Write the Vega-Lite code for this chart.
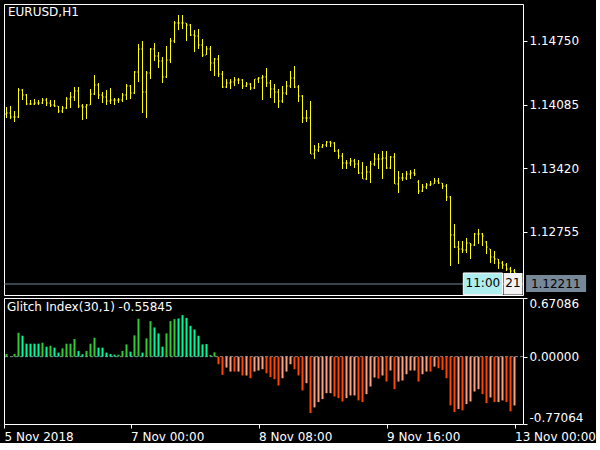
{
"$schema": "https://vega.github.io/schema/vega-lite/v6.json",
"background": "black",
"padding": {"left": 3, "top": 3, "right": 0, "bottom": 0},
"spacing": 0,
"config": {
  "view": {"stroke": "white", "strokeWidth": 1},
  "font": "DejaVu Sans",
  "axis": {"labelColor": "white", "tickColor": "white", "labelFont": "DejaVu Sans", "labelFontSize": 12, "grid": false, "domain": false, "tickSize": 4, "title": null, "labelOverlap": false},
  "title": {"anchor": "start", "frame": "group", "orient": "top", "color": "white", "fontSize": 12, "fontWeight": "normal", "font": "DejaVu Sans", "baseline": "top"}
},
"datasets": {"bars": [
{"bar":0,"open":1.13987,"high":1.14060,"low":1.13945,"close":1.13997,"glitch":0.030,"phase":"up-rise"},
{"bar":1,"open":1.13997,"high":1.14070,"low":1.13934,"close":1.13955,"glitch":0,"phase":"up-rise"},
{"bar":2,"open":1.13955,"high":1.14018,"low":1.13903,"close":1.13955,"glitch":0.030,"phase":"up-rise"},
{"bar":3,"open":1.13955,"high":1.14258,"low":1.13945,"close":1.14237,"glitch":0.273,"phase":"up-rise"},
{"bar":4,"open":1.14237,"high":1.14248,"low":1.14133,"close":1.14185,"glitch":0.239,"phase":"up-fall"},
{"bar":5,"open":1.14185,"high":1.14196,"low":1.14081,"close":1.14091,"glitch":0.148,"phase":"up-fall"},
{"bar":6,"open":1.14091,"high":1.14133,"low":1.14081,"close":1.14091,"glitch":0.148,"phase":"up-fall"},
{"bar":7,"open":1.14091,"high":1.14143,"low":1.14081,"close":1.14102,"glitch":0.148,"phase":"up-fall"},
{"bar":8,"open":1.14102,"high":1.14133,"low":1.14081,"close":1.14102,"glitch":0.148,"phase":"up-fall"},
{"bar":9,"open":1.14102,"high":1.14154,"low":1.14091,"close":1.14133,"glitch":0.159,"phase":"up-rise"},
{"bar":10,"open":1.14133,"high":1.14154,"low":1.14070,"close":1.14102,"glitch":0.114,"phase":"up-fall"},
{"bar":11,"open":1.14102,"high":1.14133,"low":1.14060,"close":1.14081,"glitch":0.125,"phase":"up-rise"},
{"bar":12,"open":1.14081,"high":1.14133,"low":1.14060,"close":1.14070,"glitch":0.103,"phase":"up-fall"},
{"bar":13,"open":1.14070,"high":1.14070,"low":1.13997,"close":1.14018,"glitch":0.046,"phase":"up-fall"},
{"bar":14,"open":1.14018,"high":1.14070,"low":1.13997,"close":1.14049,"glitch":0.095,"phase":"up-rise"},
{"bar":15,"open":1.14049,"high":1.14164,"low":1.14039,"close":1.14143,"glitch":0.148,"phase":"up-rise"},
{"bar":16,"open":1.14143,"high":1.14217,"low":1.14049,"close":1.14164,"glitch":0.148,"phase":"up-rise"},
{"bar":17,"open":1.14164,"high":1.14269,"low":1.14123,"close":1.14227,"glitch":0.201,"phase":"up-rise"},
{"bar":18,"open":1.14227,"high":1.14269,"low":1.14049,"close":1.14070,"glitch":0.065,"phase":"up-fall"},
{"bar":19,"open":1.14070,"high":1.14091,"low":1.13924,"close":1.14060,"glitch":0.027,"phase":"up-fall"},
{"bar":20,"open":1.14060,"high":1.14091,"low":1.13934,"close":1.14081,"glitch":0.065,"phase":"up-rise"},
{"bar":21,"open":1.14081,"high":1.14248,"low":1.14081,"close":1.14196,"glitch":0.148,"phase":"up-rise"},
{"bar":22,"open":1.14196,"high":1.14394,"low":1.14185,"close":1.14290,"glitch":0.216,"phase":"up-rise"},
{"bar":23,"open":1.14290,"high":1.14311,"low":1.14143,"close":1.14185,"glitch":0.103,"phase":"up-fall"},
{"bar":24,"open":1.14185,"high":1.14217,"low":1.14102,"close":1.14164,"glitch":0.103,"phase":"up-fall"},
{"bar":25,"open":1.14164,"high":1.14237,"low":1.14081,"close":1.14123,"glitch":0.046,"phase":"up-fall"},
{"bar":26,"open":1.14123,"high":1.14258,"low":1.14091,"close":1.14133,"glitch":0.030,"phase":"up-fall"},
{"bar":27,"open":1.14133,"high":1.14154,"low":1.14081,"close":1.14133,"glitch":0.023,"phase":"up-fall"},
{"bar":28,"open":1.14133,"high":1.14154,"low":1.14102,"close":1.14133,"glitch":0.023,"phase":"up-rise"},
{"bar":29,"open":1.14133,"high":1.14206,"low":1.14112,"close":1.14185,"glitch":0.065,"phase":"up-rise"},
{"bar":30,"open":1.14185,"high":1.14300,"low":1.14133,"close":1.14279,"glitch":0.140,"phase":"up-rise"},
{"bar":31,"open":1.14279,"high":1.14290,"low":1.14143,"close":1.14206,"glitch":0.057,"phase":"up-fall"},
{"bar":32,"open":1.14206,"high":1.14436,"low":1.14196,"close":1.14425,"glitch":0.243,"phase":"up-rise"},
{"bar":33,"open":1.14425,"high":1.14718,"low":1.14321,"close":1.14666,"glitch":0.433,"phase":"up-rise"},
{"bar":34,"open":1.14666,"high":1.14749,"low":1.13997,"close":1.14217,"glitch":0.046,"phase":"up-fall"},
{"bar":35,"open":1.14217,"high":1.14436,"low":1.13945,"close":1.14415,"glitch":0.209,"phase":"up-rise"},
{"bar":36,"open":1.14415,"high":1.14676,"low":1.14352,"close":1.14666,"glitch":0.406,"phase":"up-rise"},
{"bar":37,"open":1.14666,"high":1.14728,"low":1.14540,"close":1.14593,"glitch":0.334,"phase":"up-fall"},
{"bar":38,"open":1.14593,"high":1.14634,"low":1.14467,"close":1.14540,"glitch":0.266,"phase":"up-fall"},
{"bar":39,"open":1.14540,"high":1.14582,"low":1.14311,"close":1.14373,"glitch":0.114,"phase":"up-fall"},
{"bar":40,"open":1.14373,"high":1.14697,"low":1.14363,"close":1.14551,"glitch":0.266,"phase":"up-rise"},
{"bar":41,"open":1.14551,"high":1.14781,"low":1.14519,"close":1.14749,"glitch":0.406,"phase":"up-rise"},
{"bar":42,"open":1.14749,"high":1.14958,"low":1.14728,"close":1.14937,"glitch":0.429,"phase":"up-rise"},
{"bar":43,"open":1.14937,"high":1.15021,"low":1.14864,"close":1.14937,"glitch":0.437,"phase":"up-fall"},
{"bar":44,"open":1.14937,"high":1.15021,"low":1.14875,"close":1.14937,"glitch":0.475,"phase":"up-fall"},
{"bar":45,"open":1.14937,"high":1.14937,"low":1.14749,"close":1.14916,"glitch":0.444,"phase":"up-fall"},
{"bar":46,"open":1.14916,"high":1.14927,"low":1.14801,"close":1.14812,"glitch":0.353,"phase":"up-fall"},
{"bar":47,"open":1.14812,"high":1.14864,"low":1.14634,"close":1.14801,"glitch":0.311,"phase":"up-fall"},
{"bar":48,"open":1.14801,"high":1.14875,"low":1.14666,"close":1.14707,"glitch":0.239,"phase":"up-fall"},
{"bar":49,"open":1.14707,"high":1.14770,"low":1.14582,"close":1.14603,"glitch":0.140,"phase":"up-fall"},
{"bar":50,"open":1.14603,"high":1.14697,"low":1.14603,"close":1.14666,"glitch":0.144,"phase":"up-fall"},
{"bar":51,"open":1.14666,"high":1.14697,"low":1.14436,"close":1.14519,"glitch":0.019,"phase":"up-rise"},
{"bar":52,"open":1.14519,"high":1.14572,"low":1.14384,"close":1.14561,"glitch":0.049,"phase":"up-rise"},
{"bar":53,"open":1.14561,"high":1.14603,"low":1.14373,"close":1.14405,"glitch":-0.087,"phase":"down-fall"},
{"bar":54,"open":1.14405,"high":1.14436,"low":1.14258,"close":1.14269,"glitch":-0.209,"phase":"down-fall"},
{"bar":55,"open":1.14269,"high":1.14352,"low":1.14258,"close":1.14311,"glitch":-0.125,"phase":"down-rise"},
{"bar":56,"open":1.14311,"high":1.14352,"low":1.14248,"close":1.14321,"glitch":-0.171,"phase":"down-rise"},
{"bar":57,"open":1.14321,"high":1.14373,"low":1.14279,"close":1.14342,"glitch":-0.171,"phase":"down-fall"},
{"bar":58,"open":1.14342,"high":1.14363,"low":1.14300,"close":1.14342,"glitch":-0.171,"phase":"down-rise"},
{"bar":59,"open":1.14342,"high":1.14352,"low":1.14248,"close":1.14279,"glitch":-0.216,"phase":"down-fall"},
{"bar":60,"open":1.14279,"high":1.14321,"low":1.14269,"close":1.14300,"glitch":-0.216,"phase":"down-rise"},
{"bar":61,"open":1.14300,"high":1.14311,"low":1.14237,"close":1.14258,"glitch":-0.247,"phase":"down-fall"},
{"bar":62,"open":1.14258,"high":1.14352,"low":1.14248,"close":1.14352,"glitch":-0.171,"phase":"down-rise"},
{"bar":63,"open":1.14352,"high":1.14373,"low":1.14311,"close":1.14363,"glitch":-0.159,"phase":"down-rise"},
{"bar":64,"open":1.14363,"high":1.14394,"low":1.14133,"close":1.14373,"glitch":-0.144,"phase":"down-rise"},
{"bar":65,"open":1.14373,"high":1.14467,"low":1.14269,"close":1.14311,"glitch":-0.190,"phase":"down-fall"},
{"bar":66,"open":1.14311,"high":1.14342,"low":1.14154,"close":1.14248,"glitch":-0.235,"phase":"down-fall"},
{"bar":67,"open":1.14248,"high":1.14300,"low":1.14102,"close":1.14217,"glitch":-0.258,"phase":"down-fall"},
{"bar":68,"open":1.14217,"high":1.14248,"low":1.14049,"close":1.14123,"glitch":-0.330,"phase":"down-fall"},
{"bar":69,"open":1.14123,"high":1.14279,"low":1.14102,"close":1.14206,"glitch":-0.247,"phase":"down-rise"},
{"bar":70,"open":1.14206,"high":1.14331,"low":1.14185,"close":1.14279,"glitch":-0.171,"phase":"down-rise"},
{"bar":71,"open":1.14279,"high":1.14436,"low":1.14258,"close":1.14363,"glitch":-0.087,"phase":"down-rise"},
{"bar":72,"open":1.14363,"high":1.14488,"low":1.14258,"close":1.14269,"glitch":-0.144,"phase":"down-fall"},
{"bar":73,"open":1.14269,"high":1.14290,"low":1.14112,"close":1.14175,"glitch":-0.216,"phase":"down-fall"},
{"bar":74,"open":1.14175,"high":1.14185,"low":1.13893,"close":1.13945,"glitch":-0.387,"phase":"down-fall"},
{"bar":75,"open":1.13945,"high":1.14028,"low":1.13903,"close":1.13945,"glitch":-0.304,"phase":"down-rise"},
{"bar":76,"open":1.13945,"high":1.14123,"low":1.13569,"close":1.13569,"glitch":-0.645,"phase":"down-fall"},
{"bar":77,"open":1.13569,"high":1.13663,"low":1.13517,"close":1.13611,"glitch":-0.581,"phase":"down-rise"},
{"bar":78,"open":1.13611,"high":1.13684,"low":1.13590,"close":1.13642,"glitch":-0.520,"phase":"down-rise"},
{"bar":79,"open":1.13642,"high":1.13673,"low":1.13632,"close":1.13663,"glitch":-0.486,"phase":"down-rise"},
{"bar":80,"open":1.13663,"high":1.13705,"low":1.13642,"close":1.13694,"glitch":-0.418,"phase":"down-rise"},
{"bar":81,"open":1.13694,"high":1.13705,"low":1.13642,"close":1.13684,"glitch":-0.418,"phase":"down-rise"},
{"bar":82,"open":1.13684,"high":1.13694,"low":1.13590,"close":1.13600,"glitch":-0.456,"phase":"down-fall"},
{"bar":83,"open":1.13600,"high":1.13621,"low":1.13517,"close":1.13548,"glitch":-0.475,"phase":"down-fall"},
{"bar":84,"open":1.13548,"high":1.13579,"low":1.13412,"close":1.13475,"glitch":-0.513,"phase":"down-fall"},
{"bar":85,"open":1.13475,"high":1.13506,"low":1.13412,"close":1.13475,"glitch":-0.475,"phase":"down-rise"},
{"bar":86,"open":1.13475,"high":1.13527,"low":1.13444,"close":1.13496,"glitch":-0.444,"phase":"down-rise"},
{"bar":87,"open":1.13496,"high":1.13517,"low":1.13423,"close":1.13464,"glitch":-0.444,"phase":"down-rise"},
{"bar":88,"open":1.13464,"high":1.13506,"low":1.13360,"close":1.13370,"glitch":-0.501,"phase":"down-fall"},
{"bar":89,"open":1.13370,"high":1.13485,"low":1.13308,"close":1.13308,"glitch":-0.520,"phase":"down-fall"},
{"bar":90,"open":1.13308,"high":1.13444,"low":1.13297,"close":1.13381,"glitch":-0.429,"phase":"down-rise"},
{"bar":91,"open":1.13381,"high":1.13496,"low":1.13266,"close":1.13464,"glitch":-0.342,"phase":"down-rise"},
{"bar":92,"open":1.13464,"high":1.13579,"low":1.13444,"close":1.13517,"glitch":-0.239,"phase":"down-rise"},
{"bar":93,"open":1.13517,"high":1.13569,"low":1.13412,"close":1.13517,"glitch":-0.251,"phase":"down-fall"},
{"bar":94,"open":1.13517,"high":1.13600,"low":1.13308,"close":1.13527,"glitch":-0.216,"phase":"down-rise"},
{"bar":95,"open":1.13527,"high":1.13600,"low":1.13412,"close":1.13423,"glitch":-0.285,"phase":"down-fall"},
{"bar":96,"open":1.13423,"high":1.13548,"low":1.13412,"close":1.13538,"glitch":-0.159,"phase":"down-rise"},
{"bar":97,"open":1.13538,"high":1.13579,"low":1.13256,"close":1.13256,"glitch":-0.372,"phase":"down-fall"},
{"bar":98,"open":1.13256,"high":1.13391,"low":1.13162,"close":1.13318,"glitch":-0.285,"phase":"down-rise"},
{"bar":99,"open":1.13318,"high":1.13370,"low":1.13287,"close":1.13318,"glitch":-0.273,"phase":"down-rise"},
{"bar":100,"open":1.13318,"high":1.13391,"low":1.13297,"close":1.13360,"glitch":-0.201,"phase":"down-rise"},
{"bar":101,"open":1.13360,"high":1.13402,"low":1.13308,"close":1.13370,"glitch":-0.159,"phase":"down-rise"},
{"bar":102,"open":1.13370,"high":1.13412,"low":1.13339,"close":1.13360,"glitch":-0.159,"phase":"down-rise"},
{"bar":103,"open":1.13276,"high":1.13297,"low":1.13151,"close":1.13182,"glitch":-0.285,"phase":"down-fall"},
{"bar":104,"open":1.13182,"high":1.13256,"low":1.13172,"close":1.13224,"glitch":-0.201,"phase":"down-rise"},
{"bar":105,"open":1.13224,"high":1.13266,"low":1.13203,"close":1.13245,"glitch":-0.171,"phase":"down-rise"},
{"bar":106,"open":1.13245,"high":1.13287,"low":1.13235,"close":1.13256,"glitch":-0.171,"phase":"down-fall"},
{"bar":107,"open":1.13256,"high":1.13318,"low":1.13256,"close":1.13287,"glitch":-0.114,"phase":"down-rise"},
{"bar":108,"open":1.13287,"high":1.13318,"low":1.13256,"close":1.13266,"glitch":-0.133,"phase":"down-fall"},
{"bar":109,"open":1.13266,"high":1.13266,"low":1.13203,"close":1.13235,"glitch":-0.152,"phase":"down-fall"},
{"bar":110,"open":1.13235,"high":1.13256,"low":1.13078,"close":1.13120,"glitch":-0.247,"phase":"down-fall"},
{"bar":111,"open":1.13120,"high":1.13130,"low":1.12399,"close":1.12723,"glitch":-0.558,"phase":"down-fall"},
{"bar":112,"open":1.12723,"high":1.12838,"low":1.12587,"close":1.12598,"glitch":-0.634,"phase":"down-fall"},
{"bar":113,"open":1.12598,"high":1.12660,"low":1.12420,"close":1.12577,"glitch":-0.600,"phase":"down-rise"},
{"bar":114,"open":1.12577,"high":1.12660,"low":1.12535,"close":1.12566,"glitch":-0.615,"phase":"down-fall"},
{"bar":115,"open":1.12566,"high":1.12692,"low":1.12535,"close":1.12639,"glitch":-0.543,"phase":"down-rise"},
{"bar":116,"open":1.12639,"high":1.12639,"low":1.12472,"close":1.12618,"glitch":-0.513,"phase":"down-rise"},
{"bar":117,"open":1.12618,"high":1.12744,"low":1.12608,"close":1.12733,"glitch":-0.399,"phase":"down-rise"},
{"bar":118,"open":1.12733,"high":1.12786,"low":1.12629,"close":1.12733,"glitch":-0.372,"phase":"down-rise"},
{"bar":119,"open":1.12733,"high":1.12744,"low":1.12608,"close":1.12712,"glitch":-0.429,"phase":"down-fall"},
{"bar":120,"open":1.12650,"high":1.12660,"low":1.12524,"close":1.12598,"glitch":-0.532,"phase":"down-fall"},
{"bar":121,"open":1.12577,"high":1.12577,"low":1.12430,"close":1.12493,"glitch":-0.467,"phase":"down-rise"},
{"bar":122,"open":1.12493,"high":1.12556,"low":1.12420,"close":1.12472,"glitch":-0.520,"phase":"down-fall"},
{"bar":123,"open":1.12472,"high":1.12472,"low":1.12368,"close":1.12430,"glitch":-0.520,"phase":"down-rise"},
{"bar":124,"open":1.12430,"high":1.12451,"low":1.12368,"close":1.12410,"glitch":-0.501,"phase":"down-rise"},
{"bar":125,"open":1.12410,"high":1.12430,"low":1.12347,"close":1.12368,"glitch":-0.520,"phase":"down-fall"},
{"bar":126,"open":1.12368,"high":1.12389,"low":1.12326,"close":1.12347,"glitch":-0.626,"phase":"down-fall"},
{"bar":127,"open":1.12347,"high":1.12368,"low":1.12305,"close":1.12326,"glitch":-0.55845,"phase":"down-rise"}
]},
"vconcat": [
  {
    "width": 519,
    "height": 291,
    "title": {"text": "EURUSD,H1", "offset": -15, "dx": 4},
    "layer": [
      {
        "data": {"values": [{"bid": 1.12211}]},
        "mark": {"type": "rule", "color": "#778899", "strokeWidth": 1},
        "encoding": {
          "y": {"field": "bid", "type": "quantitative", "scale": {"domain": [1.12096, 1.15136], "nice": false, "zero": false},
                "axis": {"orient": "right", "values": [1.1475, 1.14085, 1.1342, 1.12755], "format": ".5f", "labelPadding": 2}}
        }
      },
      {
        "data": {"name": "bars"},
        "mark": {"type": "rule", "color": "#FFFF00", "strokeWidth": 1},
        "encoding": {
          "x": {"field": "bar", "type": "quantitative", "scale": {"domain": [-0.625, 129.125], "nice": false, "zero": false}, "axis": null},
          "y": {"field": "low", "type": "quantitative"},
          "y2": {"field": "high"}
        }
      },
      {
        "data": {"name": "bars"},
        "mark": {"type": "tick", "orient": "horizontal", "size": 1, "thickness": 1, "xOffset": -1, "color": "#FFFF00"},
        "encoding": {
          "x": {"field": "bar", "type": "quantitative"},
          "y": {"field": "open", "type": "quantitative"}
        }
      },
      {
        "data": {"name": "bars"},
        "mark": {"type": "tick", "orient": "horizontal", "size": 1, "thickness": 1, "xOffset": 1, "color": "#FFFF00"},
        "encoding": {
          "x": {"field": "bar", "type": "quantitative"},
          "y": {"field": "close", "type": "quantitative"}
        }
      },
      {
        "data": {"values": [{}]},
        "mark": {"type": "rect", "color": "#AFEEEE", "stroke": "white", "strokeWidth": 1},
        "encoding": {
          "x": {"datum": 114.2, "type": "quantitative"}, "x2": {"datum": 124.0},
          "y": {"datum": 1.12326, "type": "quantitative"}, "y2": {"datum": 1.12100}
        }
      },
      {
        "data": {"values": [{}]},
        "mark": {"type": "rect", "color": "#F2F2F2"},
        "encoding": {
          "x": {"datum": 124.25, "type": "quantitative"}, "x2": {"datum": 129.0},
          "y": {"datum": 1.12326, "type": "quantitative"}, "y2": {"datum": 1.12100}
        }
      },
      {
        "data": {"values": [{}]},
        "mark": {"type": "rect", "color": "#778899"},
        "encoding": {
          "x": {"datum": 129.9, "type": "quantitative"}, "x2": {"datum": 144.9},
          "y": {"datum": 1.12305, "type": "quantitative"}, "y2": {"datum": 1.12128}
        }
      },
      {
        "data": {"values": [{}]},
        "mark": {"type": "text", "color": "black", "fontSize": 12, "font": "DejaVu Sans", "align": "center", "baseline": "middle"},
        "encoding": {
          "x": {"datum": 119.1, "type": "quantitative"},
          "y": {"datum": 1.12222, "type": "quantitative"},
          "text": {"value": "11:00"}
        }
      },
      {
        "data": {"values": [{}]},
        "mark": {"type": "text", "color": "black", "fontSize": 12, "font": "DejaVu Sans", "align": "center", "baseline": "middle"},
        "encoding": {
          "x": {"datum": 126.6, "type": "quantitative"},
          "y": {"datum": 1.12222, "type": "quantitative"},
          "text": {"value": "21"}
        }
      },
      {
        "data": {"values": [{}]},
        "mark": {"type": "text", "color": "black", "fontSize": 12, "font": "DejaVu Sans", "align": "left", "baseline": "middle"},
        "encoding": {
          "x": {"datum": 131.1, "type": "quantitative"},
          "y": {"datum": 1.12216, "type": "quantitative"},
          "text": {"value": "1.12211"}
        }
      }
    ]
  },
  {
    "width": 519,
    "height": 126,
    "title": {"text": "Glitch Index(30,1) -0.55845", "offset": -17, "dx": 3},
    "layer": [
      {
        "data": {"values": [{}]},
        "mark": {"type": "rule", "color": "#778899", "strokeDash": [3, 2], "strokeWidth": 1},
        "encoding": {
          "y": {"datum": 0, "type": "quantitative", "scale": {"domain": [-0.77064, 0.67086], "nice": false, "zero": false},
                "axis": {"orient": "right", "values": [0.67086, 0, -0.77064], "labelExpr": "datum.value == 0 ? '0.00000' : (datum.value > 0 ? '0.67086' : '-0.77064')", "labelFlush": true, "labelPadding": 2}}
        }
      },
      {
        "data": {"name": "bars"},
        "mark": {"type": "rule", "strokeWidth": 2},
        "encoding": {
          "x": {"field": "bar", "type": "quantitative", "scale": {"domain": [-0.625, 129.125], "nice": false, "zero": false},
                "axis": {"orient": "bottom", "values": [-0.625, 31, 63, 95, 127], "labelExpr": "datum.value < 0 ? '5 Nov 2018' : datum.value == 31 ? '7 Nov 00:00' : datum.value == 63 ? '8 Nov 08:00' : datum.value == 95 ? '9 Nov 16:00' : '13 Nov 00:00'", "labelAlign": "left", "labelFlush": false, "labelBound": false, "labelPadding": 3, "labelDx": 1}},
          "y": {"field": "glitch", "type": "quantitative"},
          "y2": {"datum": 0},
          "color": {"field": "phase", "type": "nominal", "legend": null,
                    "scale": {"domain": ["up-rise", "up-fall", "down-fall", "down-rise"], "range": ["#32CD32", "#00FA9A", "#FF4500", "#FFA07A"]}}
        }
      }
    ]
  }
]
}
